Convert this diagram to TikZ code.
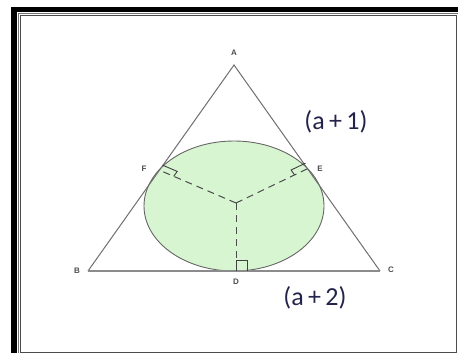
\documentclass[tikz,border=0pt]{standalone}
\usepackage{fontspec}
\setmainfont{Carlito}
\newfontfamily\lblfont{Liberation Sans}
\usetikzlibrary{calc}

\definecolor{discgreen}{RGB}{216,245,210}
\definecolor{sidegray}{RGB}{110,110,110}
\definecolor{inkblue}{RGB}{35,35,75}

\begin{document}
\begin{tikzpicture}[
  x=1pt, y=-1pt,
  side/.style={sidegray, line width=1pt},
  rad/.style={black!70, line width=1pt, dash pattern=on 7pt off 5pt},
  rtmark/.style={black!75, line width=0.9pt},
  pt/.style={font=\lblfont\bfseries\fontsize{8}{9}\selectfont, text=black!70, inner sep=1pt},
  len/.style={font=\fontsize{26}{29}\selectfont, text=inkblue, inner sep=0pt}
]
  \useasboundingbox (0,0) rectangle (458,353);
  % frame
  \fill[black] (11,7) rectangle (17,353);
  \fill[black] (11,7) rectangle (458,12);
  \draw[black!55, line width=0.8pt] (18.5,353) -- (18.5,13.5) -- (458,13.5);
  \draw[black!70, line width=1pt] (20.5,352) -- (20.5,15.5) -- (456,15.5) -- (456,352) -- cycle;

  % points
  \coordinate (A) at (234,65);
  \coordinate (B) at (88,271);
  \coordinate (C) at (380,271);
  \coordinate (D) at (236,271);
  \coordinate (E) at (309,168);
  \coordinate (F) at (159,170);
  \coordinate (O) at (236,203);

  % in-ellipse
  \filldraw[fill=discgreen, draw=black!60, line width=0.9pt] (234,206) ellipse [x radius=90, y radius=65];

  % triangle
  \draw[side] (B) -- (A) -- (C);
  \draw[sidegray!80, line width=1.8pt] (B) -- (C);

  % radii
  \draw[rad] (O) -- (F);
  \draw[rad] (O) -- (E);
  \draw[rad] (O) -- (D);

  % right angles
  \draw[rtmark] (D) -- ++(0,-11) -- ++(11,0) -- ++(0,11);
  \draw[rtmark] ($(F)!16pt!(O)$) -- ++(3.5,-4.9) -- ($(F)!6pt!(A)$);
  \draw[rtmark] ($(E)!16pt!(O)$) -- ++(-3.5,-4.9) -- ($(E)!6pt!(A)$);

  % labels
  \node[pt] (lA) at (234,53) {A};
  \node[pt] (lB) at (77,271) {B};
  \node[pt] (lC) at (391,270) {C};
  \node[pt] (lD) at (236,282) {D};
  \node[pt] (lE) at (320,169) {E};
  \node[pt] (lF) at (144,169) {F};
  \node[len] (ac) at (336,122) {(a\,+\,1)};
  \node[len] (bc) at (315,298) {(a\,+\,2)};
\end{tikzpicture}
\end{document}
